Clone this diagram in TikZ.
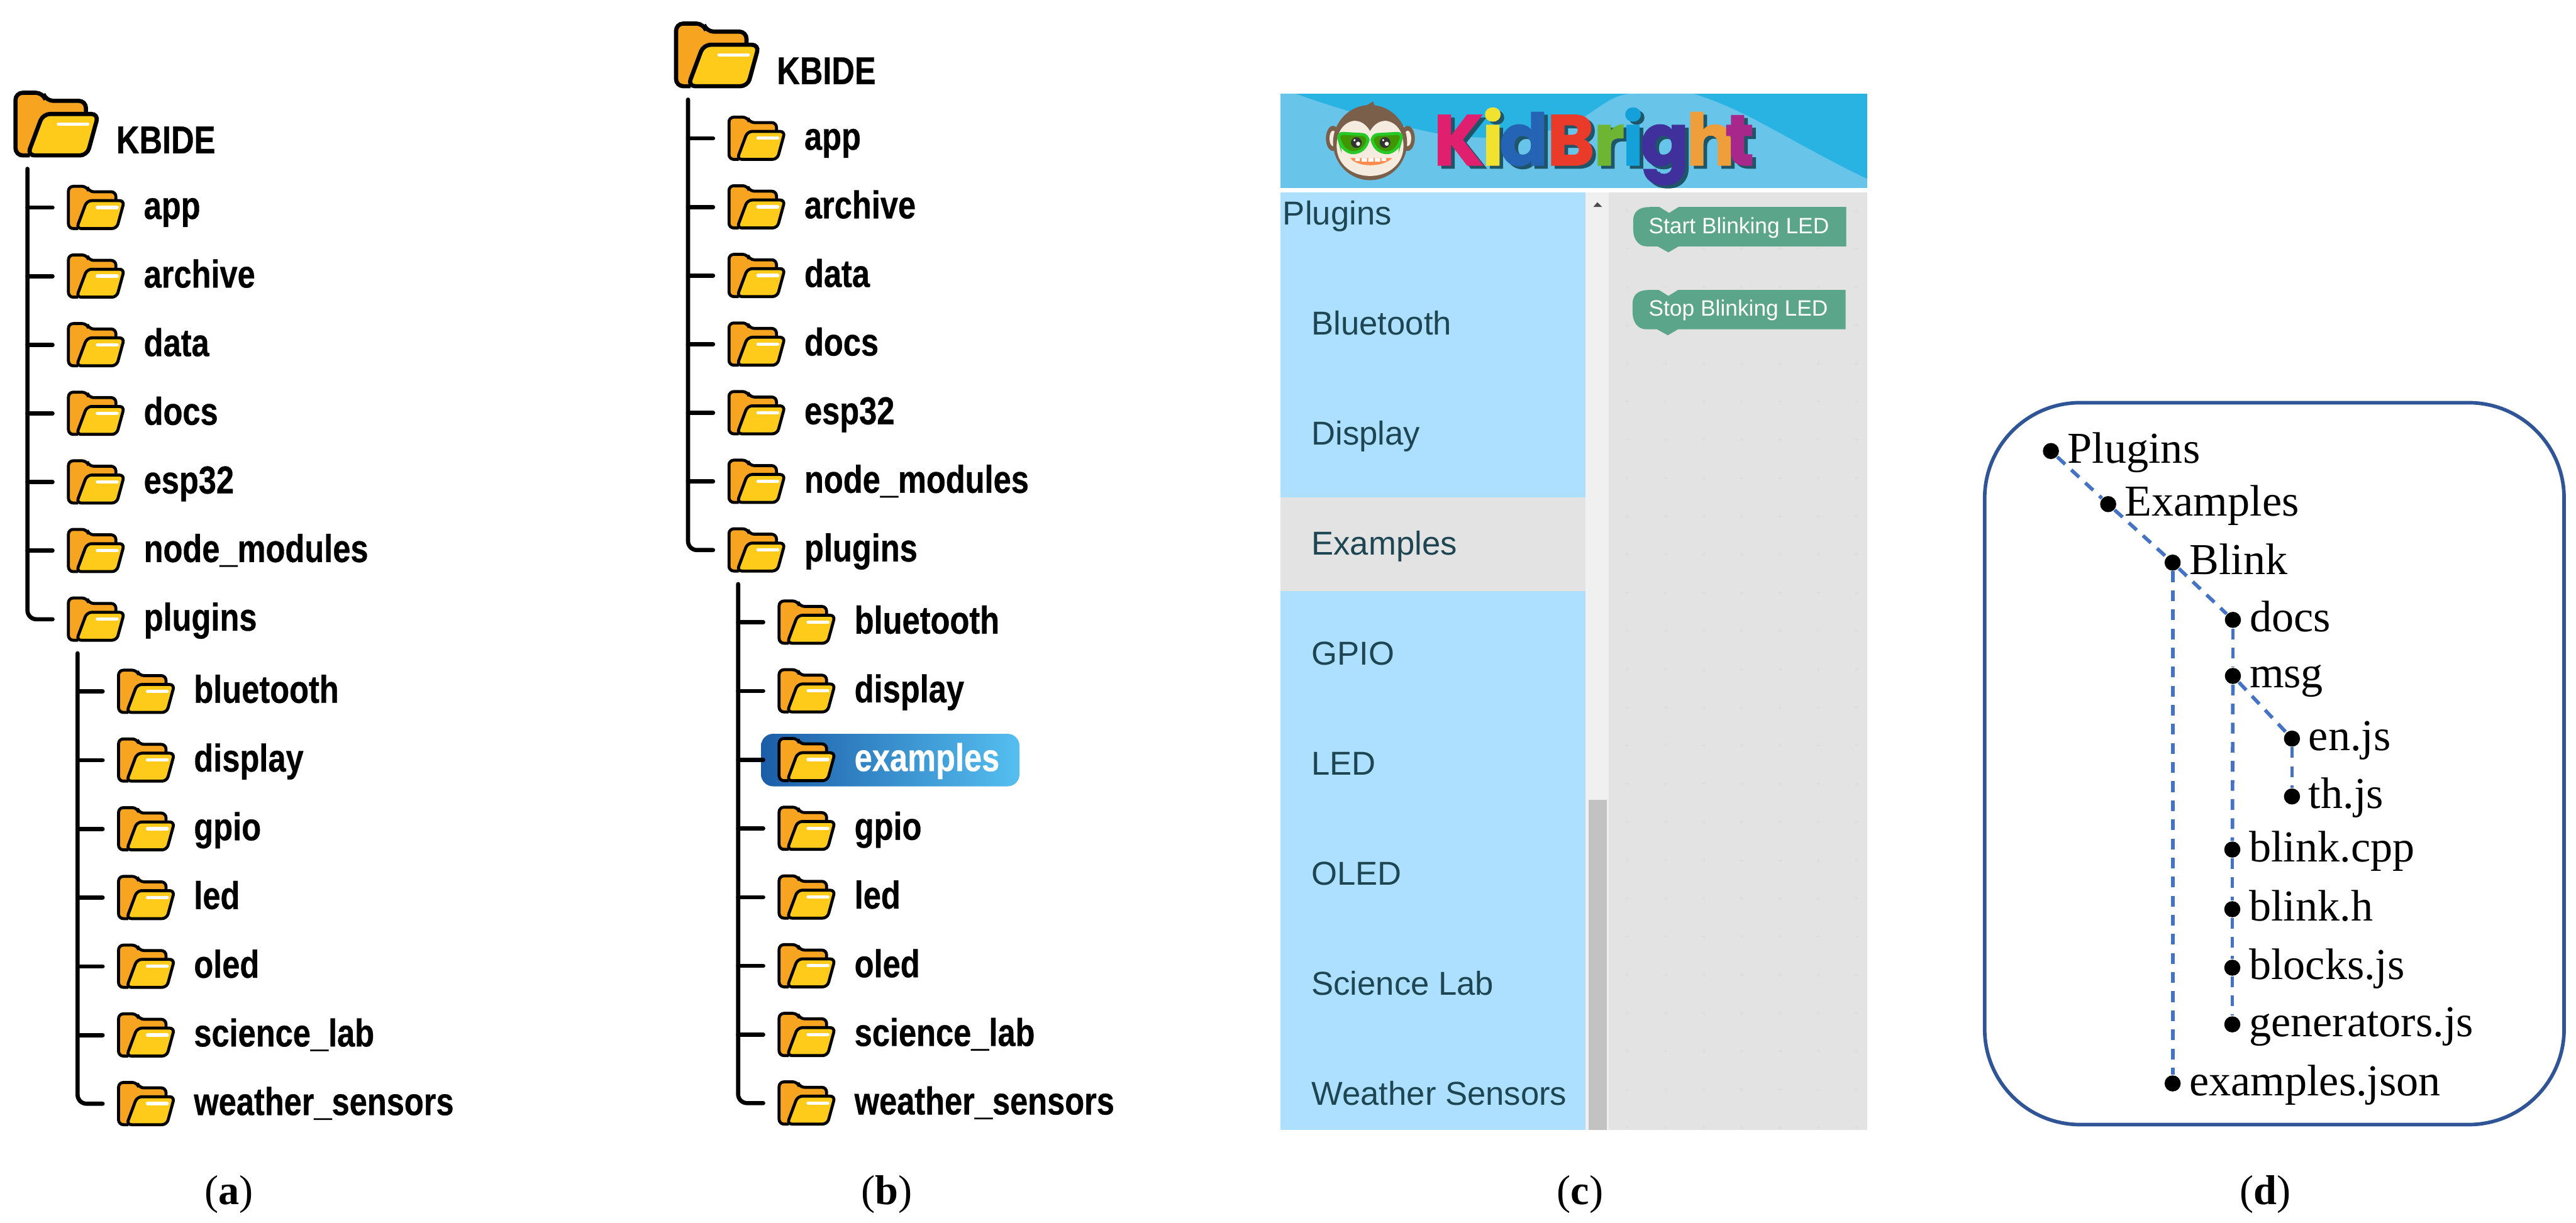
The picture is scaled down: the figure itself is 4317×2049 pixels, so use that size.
\documentclass[tikz,border=0pt]{standalone}
\usepackage{fontspec}
\setmainfont{Liberation Serif}
\setsansfont{Liberation Sans}
\newfontfamily\treefont[FakeStretch=0.82,FakeBold=0.5]{Liberation Sans}
\newfontfamily\logofont[FakeBold=1.5]{Poppins}

\definecolor{folderback}{HTML}{F7A521}
\definecolor{folderfront}{HTML}{FFCB1A}
\definecolor{headdark}{HTML}{29B3E2}
\definecolor{headlight}{HTML}{68C4E8}
\definecolor{sidebar}{HTML}{ADE0FF}
\definecolor{sidetext}{HTML}{1D4652}
\definecolor{workspace}{HTML}{E3E3E3}
\definecolor{blockgreen}{HTML}{5BA58B}
\definecolor{dashblue}{HTML}{4472C4}
\definecolor{boxblue}{HTML}{2F5597}
\definecolor{logoshade}{HTML}{1F5568}
\definecolor{monkeybrown}{HTML}{7A5F4B}
\definecolor{monkeyface}{HTML}{F5EBDF}
\definecolor{logopink}{HTML}{E0206E}
\definecolor{logoyellow}{HTML}{F0E22E}
\definecolor{logoblue}{HTML}{2563B4}
\definecolor{logored}{HTML}{EA3A2A}
\definecolor{logogreen}{HTML}{6DB533}
\definecolor{logocyan}{HTML}{14A0D8}
\definecolor{logoviolet}{HTML}{3F309B}
\definecolor{logoorange}{HTML}{EE9E3A}
\definecolor{logopurple}{HTML}{A8278A}
\definecolor{markleft}{HTML}{1B5DA8}
\definecolor{markmid}{HTML}{2E8FD0}
\definecolor{markright}{HTML}{55BFF0}

\newdimen\pxunit
\pxunit=0.2pt
\newcommand{\lgl}[3]{\makebox[#2\pxunit][l]{\textcolor{#1}{#3}}}
\newcommand{\logoword}{\lgl{logopink}{81}{K}\lgl{logoyellow}{29}{i}\lgl{logoblue}{80}{d}\lgl{logored}{78}{B}\lgl{logogreen}{48}{r}\lgl{logocyan}{30}{i}\lgl{logoviolet}{77}{g}\lgl{logoorange}{65}{h}\lgl{logopurple}{46}{t}}

\newcommand{\treerow}[5][]{
  \coordinate (#2t) at (#3,#4);
  \coordinate (#2e) at (#3+42,#4);
  \pic[smallfolder] (#2f) at (#3+66,#4-38) {folder};
  \node[treelabel,#1] (#2) at (#3+194,#4+19) {#5};
}

\newcommand{\kbtree}[1]{
  \pic[bigfolder] (#1root) at (22,152) {folder};
  \node[treelabel] (#1kbide) at (194,257) {KBIDE};
  \coordinate (#1top) at (46,283);
  \foreach \n/\lab in {0/app,1/archive,2/data,3/docs,4/esp32,5/node\_modules}{
    \pgfmathsetmacro{\y}{348+115*\n}
    \treerow{#1\n}{46}{\y}{\lab}
    \draw[treeline] (#1\n t) -- (#1\n e);
  }
  \treerow{#1p}{46}{1038}{plugins}
  \draw[treeline,rounded corners=3pt] (#1top) |- (#1pe);
  \coordinate (#1sub) at (130,1095);
}

\tikzset{
  folder/.pic={
    \draw[fill=folderback] (28,108.5) -- (4,108.5) -- (4,3.5) -- (50,3.5) -- (55,17) -- (122,17) -- (122,50);
    \draw[fill=folderfront] (24,108.5) -- (50,39) -- (143,39) -- (124,108.5) -- cycle;
    \draw[white,line width=1.1pt,line cap=round] (76,56) -- (125,56);
  },
  bigfolder/.style={line width=1.4pt,rounded corners=2.4pt},
  smallfolder/.style={scale=0.674,line width=1pt,rounded corners=1.6pt},
  codeblock/.pic={
    \fill[blockgreen] (0,23) .. controls (0,5) and (13,0) .. (28,0) -- (44,0) -- (60,10) -- (76,0)
      -- (357,0) -- (357,66) -- (76,66) -- (59,76) -- (41,66) -- (23,66)
      .. controls (8,66) and (0,53) .. (0,38) -- cycle;
  }
}

\begin{document}
\begin{tikzpicture}[
x=0.2pt, y=-0.2pt,
treeline/.style={line width=1.4pt,line cap=round},
treelabel/.style={anchor=base west,inner sep=0pt,font=\treefont\bfseries\fontsize{13}{15}\selectfont},
sidelabel/.style={anchor=base west,inner sep=0pt,text=sidetext,font=\sffamily\fontsize{11.1}{13}\selectfont},
blocklabel/.style={anchor=base west,inner sep=0pt,text=white,font=\sffamily\fontsize{7.45}{9}\selectfont},
dot/.style={circle,fill=black,inner sep=0pt,minimum size=5.4pt},
leaflabel/.style={anchor=base west,inner sep=0pt,font=\fontsize{14.8}{17}\selectfont},
dashline/.style={dashblue,line width=1.2pt,dash pattern=on 3.6pt off 2.8pt},
caption/.style={anchor=base,inner sep=0pt,font=\fontsize{14}{16}\selectfont},
logoword/.style={anchor=base west,inner sep=0pt,font=\logofont\bfseries\fontsize{24}{26}\selectfont}
]

\useasboundingbox (0,0) rectangle (4317,2049);

% panel a
\kbtree{a}
\foreach \n/\lab in {0/bluetooth,1/display,2/gpio,3/led,4/oled,5/science\_lab}{
    \pgfmathsetmacro{\y}{1159+115.2*\n}
    \treerow{as\n}{130}{\y}{\lab}
    \draw[treeline] (as\n t) -- (as\n e);
}
\treerow{asw}{130}{1850}{weather\_sensors}
\draw[treeline,rounded corners=3pt] (asub) |- (aswe);

% panel b
\begin{scope}[shift={(1107,-116)}]
\kbtree{b}
\node[rounded corners=4pt,left color=markleft,middle color=markmid,right color=markright,minimum width=86.6pt,minimum height=17.6pt,inner sep=0pt] (bmark) at (385,1390) {};
\foreach \n/\lab in {0/bluetooth,1/display,3/gpio,4/led,5/oled,6/science\_lab}{
    \pgfmathsetmacro{\y}{1159+115.2*\n}
    \treerow{bs\n}{130}{\y}{\lab}
    \draw[treeline] (bs\n t) -- (bs\n e);
}
\treerow[text=white]{bsx}{130}{1389.4}{examples}
\draw[treeline] (bsxt) -- (bsxe);
\treerow{bsw}{130}{1965}{weather\_sensors}
\draw[treeline,rounded corners=3pt] (bsub) |- (bswe);
\end{scope}

% panel c
\fill[headdark] (2146,157) rectangle (3129,315);
\fill[headlight] (2146,157) -- (2171,157) .. controls (2240,182) and (2320,205) .. (2399,222)
    .. controls (2500,240) and (2600,230) .. (2660,193)
    .. controls (2690,172) and (2710,157) .. (2737,157) -- (2837,157)
    .. controls (2880,170) and (2910,185) .. (2940,200)
    .. controls (3000,232) and (3070,272) .. (3129,300) -- (3129,315) -- (2146,315) -- cycle;

\fill[sidebar] (2146,322) rectangle (2657,1894);
\fill[workspace] (2146,834) rectangle (2657,991);
\fill[black!6] (2657,322) rectangle (2696,1894);
\fill[black!24] (2662,1341) rectangle (2693,1894);
\fill[black!70] (2670,347) -- (2677,339) -- (2685,347) -- cycle;
\fill[workspace] (2696,322) rectangle (3129,1894);
\foreach \x in {0,...,6}
    \foreach \y in {0,...,24}
        \draw[black!14,line width=0.12pt] (2727+\x*64,349+\y*64.04) -- (2727+\x*64,357+\y*64.04)
            (2723+\x*64,353+\y*64.04) -- (2731+\x*64,353+\y*64.04);

% monkey
\fill[monkeybrown] (2234,232) ellipse (12 and 21) (2359,232) ellipse (12 and 21);
\fill[monkeyface] (2234,232) ellipse (6 and 13) (2359,232) ellipse (6 and 13);
\fill[monkeybrown] (2296,239) ellipse (62 and 63);
\fill[monkeybrown] (2288,178) -- (2301,170) -- (2304,178) -- cycle;
\fill[monkeyface] (2296,220) .. controls (2288,205) and (2275,201) .. (2266,203)
    .. controls (2248,208) and (2240,225) .. (2240,245)
    .. controls (2240,275) and (2265,295) .. (2296,295)
    .. controls (2327,295) and (2352,275) .. (2352,245)
    .. controls (2352,225) and (2344,208) .. (2326,203)
    .. controls (2317,201) and (2304,205) .. (2296,220) -- cycle;
\filldraw[fill=green!45!black!75!yellow,draw=green!75!black!85!white,line width=1pt,rounded corners=2pt] (2241,223) -- (2293,226) -- (2292,243) -- (2276,257) -- (2256,255) -- (2246,240) -- cycle
    (2351,223) -- (2299,226) -- (2300,243) -- (2316,257) -- (2336,255) -- (2346,240) -- cycle;
\fill[black!80] (2273,239) circle (9) (2321,239) circle (9);
\fill[white] (2276,241) circle (3.5) (2270,235) circle (2) (2324,241) circle (3.5) (2318,235) circle (2);
\fill[orange!70!red!70] (2263,265) .. controls (2275,281) and (2317,281) .. (2333,265) -- cycle;
\fill[white] (2271,265) rectangle (2279,270) (2282,265) rectangle (2291,271) (2293,265) rectangle (2302,271)
    (2304,265) rectangle (2313,271) (2315,265) rectangle (2323,270);

\begingroup
\renewcommand{\lgl}[3]{\makebox[#2\pxunit][l]{\textcolor{logoshade}{#3}}}
\node[logoword] (logoshadow) at (2408,282) {\logoword};
\endgroup
\node[logoword] (logotext) at (2402,277) {\logoword};

\foreach \y/\lab in {0/Bluetooth,1/Display,2/Examples,3/GPIO,4/LED,5/OLED,6/Science Lab,7/Weather Sensors}
    \node[sidelabel] (side\y) at (2197,561+184.5*\y) {\lab};
\node[sidelabel] (sideplugins) at (2149,377) {Plugins};

\pic (startblock) at (2737,347) {codeblock};
\pic (stopblock) at (2736,486) {codeblock};
\node[blocklabel] (startlabel) at (2762,392) {Start Blinking LED};
\node[blocklabel] (stoplabel) at (2762,530) {Stop Blinking LED};

% panel d
\draw[boxblue,line width=1.2pt,rounded corners=32pt] (3326,675) rectangle (4297,1885);
\foreach \nm/\x/\y/\lab in {plugins/3437/756/Plugins,examples/3533/845/Examples,blink/3641/943/Blink,
    docs/3742/1039/docs,msg/3742/1133/msg,en/3841/1238/en.js,th/3841/1335/th.js,
    cpp/3741/1424/blink.cpp,hfile/3741/1524/blink.h,blocks/3741/1622/blocks.js,
    generators/3741/1717/generators.js,json/3641/1816/examples.json}{
    \node[dot] (\nm) at (\x,\y) {};
    \node[leaflabel] (\nm txt) at (\x+27,\y+20) {\lab};
}
\draw[dashline] (plugins) -- (examples);
\draw[dashline] (examples) -- (blink);
\draw[dashline] (blink) -- (docs);
\draw[dashline] (blink) -- (json);
\draw[dashline] (docs) -- (msg);
\draw[dashline] (msg) -- (cpp);
\draw[dashline] (msg) -- (en);
\draw[dashline] (en) -- (th);
\draw[dashline] (cpp) -- (hfile);
\draw[dashline] (hfile) -- (blocks);
\draw[dashline] (blocks) -- (generators);

\node[caption] (capa) at (384,2019) {(\textbf{a})};
\node[caption] (capb) at (1486,2019) {(\textbf{b})};
\node[caption] (capc) at (2648,2019) {(\textbf{c})};
\node[caption] (capd) at (3796,2019) {(\textbf{d})};

\end{tikzpicture}
\end{document}
